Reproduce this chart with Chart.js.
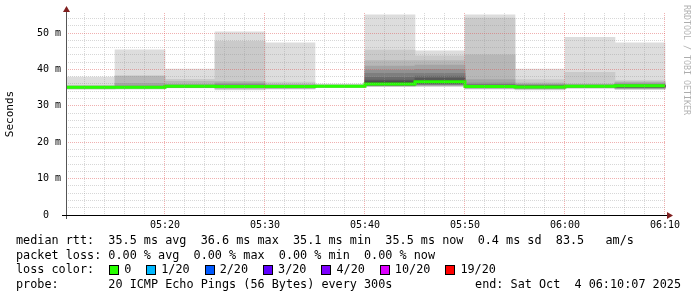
<!DOCTYPE html>
<html>
<head>
<meta charset="utf-8">
<script src="https://cdn.jsdelivr.net/npm/chart.js@4/dist/chart.umd.min.js"></script>
<style>
html,body{margin:0;padding:0;background:#ffffff;}
#wrap{width:697px;height:297px;position:relative;overflow:hidden;}
canvas{display:block;}
</style>
</head>
<body>
<div id="wrap"><canvas id="c" width="697" height="297"></canvas></div>
<script>
// ---------- DATA ----------
const slotStarts = ['05:10','05:15','05:20','05:25','05:30','05:35','05:40','05:45','05:50','05:55','06:00','06:05'];
const slotMinutes = 5;
const viewStart = '05:10:06';
const viewEnd = '06:10:06';

// 20 sorted ping RTTs (ms) per 5-minute slot
const ping0510 = [34.5,34.7,34.8,34.9,34.9,34.9,35.0,35.0,35.0,35.1,35.1,35.1,35.1,35.1,35.2,35.2,35.3,35.4,35.6,37.9];
const ping0515 = [34.6,34.7,34.8,34.9,34.9,35.0,35.0,35.0,35.1,35.1,35.1,35.1,35.2,35.2,35.3,35.5,36.2,38.1,38.3,45.4];
const ping0520 = [34.9,35.0,35.0,35.1,35.1,35.2,35.2,35.3,35.3,35.4,35.4,35.4,35.5,35.5,35.6,35.7,35.9,36.7,37.3,40.1];
const ping0525 = [34.4,34.6,34.8,34.9,35.0,35.0,35.1,35.1,35.2,35.3,35.3,35.4,35.5,35.6,35.7,36.0,36.3,36.7,47.7,50.3];
const ping0530 = [34.6,34.7,34.8,34.9,35.0,35.0,35.1,35.2,35.2,35.3,35.3,35.4,35.4,35.5,35.5,35.6,35.8,36.0,36.5,47.3];
const ping0535 = [35.0,35.1,35.1,35.2,35.2,35.3,35.3,35.3,35.4,35.4,35.4,35.4,35.5,35.5,35.5,35.6,35.6,35.7,35.8,36.0];
const ping0540 = [35.3,35.4,35.4,35.5,35.5,35.6,35.7,35.8,35.9,36.0,36.1,36.6,37.1,37.8,38.9,39.8,40.9,42.4,45.3,55.0];
const ping0545 = [35.3,35.4,35.5,35.6,35.8,35.9,36.0,36.2,36.3,36.5,36.7,36.9,37.6,38.2,38.9,40.0,41.2,42.4,43.7,45.1];
const ping0550 = [34.6,34.7,34.8,34.9,35.0,35.0,35.1,35.2,35.2,35.3,35.4,35.5,35.6,35.7,35.9,36.3,37.2,44.0,54.1,55.0];
const ping0555 = [34.4,34.5,34.7,34.8,34.9,34.9,35.0,35.1,35.1,35.2,35.2,35.3,35.4,35.5,35.6,35.8,36.0,36.3,37.2,40.1];
const ping0600 = [34.8,34.9,35.0,35.0,35.1,35.2,35.2,35.3,35.3,35.4,35.4,35.4,35.5,35.5,35.6,35.7,35.8,36.0,39.2,48.8];
const ping0605 = [34.5,34.6,34.7,34.8,34.9,35.0,35.1,35.2,35.2,35.4,35.5,35.5,35.6,35.7,35.8,36.0,36.3,36.6,36.9,47.3];
const slotPings = [ping0510,ping0515,ping0520,ping0525,ping0530,ping0535,ping0540,ping0545,ping0550,ping0555,ping0600,ping0605];

const medianRtt = [35.1,35.1,35.4,35.3,35.3,35.4,36.0,36.6,35.3,35.2,35.4,35.5];

const xTickLabels = ['05:20','05:30','05:40','05:50','06:00','06:10'];
const yTickValues = [0,10,20,30,40,50];
const yTickLabels = ['0  ','10 m','20 m','30 m','40 m','50 m'];
const yMax = 55.5;

const lossLabels = ['0','1/20','2/20','3/20','4/20','10/20','19/20'];

const legendMedian = 'median rtt:  35.5 ms avg  36.6 ms max  35.1 ms min  35.5 ms now  0.4 ms sd  83.5   am/s';
const legendLoss = 'packet loss: 0.00 % avg  0.00 % max  0.00 % min  0.00 % now';
const legendLossTitle = 'loss color:';
const legendProbe = 'probe:       20 ICMP Echo Pings (56 Bytes) every 300s';
const legendEnd = 'end: Sat Oct  4 06:10:07 2025';
const watermark = 'RRDTOOL / TOBI OETIKER';
const yTitle = 'Seconds';

// ---------- STYLE ----------
const lossColors = ['#26ff00','#00b8ff','#0059ff','#5e00ff','#7e00ff','#dd00ff','#ff0000'];
const MONO = '"DejaVu Sans Mono", "Liberation Mono", monospace';
const minorGrid = 'rgba(150,150,150,0.38)';
const majorGrid = 'rgba(222,79,79,0.45)';

// ---------- helpers ----------
function toMin(t){ const p = t.split(':'); return (+p[0])*60 + (+p[1]) + (p[2] ? (+p[2])/60 : 0); }
const xMin = toMin(viewStart), xMax = toMin(viewEnd);
const slotMid = slotStarts.map(t => toMin(t) + slotMinutes/2);

const datasets = [];
const half = 10;
for (let i = 1; i <= half; i++) {
  const g = Math.floor(190/half*(half-i)) + 50;
  datasets.push({
    type: 'bar',
    label: 'smoke' + i,
    xAxisID: 'xb',
    data: slotPings.map((s, k) => ({x: slotMid[k], y: [s[i-1], s[20-i]]})),
    backgroundColor: 'rgb(' + g + ',' + g + ',' + g + ')',
    borderWidth: 0,
    grouped: false,
    barPercentage: 1,
    categoryPercentage: 1,
    order: 20 - i,
    clip: 0
  });
}
const medianPts = slotStarts.map((t, k) => ({x: toMin(t), y: medianRtt[k]}));
medianPts.push({x: toMin(slotStarts[slotStarts.length-1]) + slotMinutes, y: medianRtt[medianRtt.length-1]});
datasets.push({
  type: 'line',
  label: 'median',
  xAxisID: 'x',
  data: medianPts,
  borderColor: lossColors[0],
  borderWidth: 3,
  pointRadius: 0,
  stepped: 'before',
  fill: false,
  order: 1,
  clip: 0
});

const decor = {
  id: 'decor',
  afterDraw(chart) {
    const ctx = chart.ctx;
    const a = chart.chartArea;
    const L = Math.round(a.left) + 0.5, B = Math.round(a.bottom) + 0.5;
    ctx.save();
    // axes
    ctx.lineWidth = 1;
    ctx.strokeStyle = '#555555';
    ctx.beginPath(); ctx.moveTo(L, a.top - 3); ctx.lineTo(L, a.bottom + 4); ctx.stroke();
    ctx.strokeStyle = '#000000';
    ctx.beginPath(); ctx.moveTo(a.left - 4, B); ctx.lineTo(a.right + 2, B); ctx.stroke();
    // arrows
    ctx.fillStyle = '#801f1f';
    ctx.beginPath(); ctx.moveTo(L - 3.5, a.top - 1); ctx.lineTo(L + 3.5, a.top - 1); ctx.lineTo(L, a.top - 7); ctx.closePath(); ctx.fill();
    ctx.beginPath(); ctx.moveTo(a.right + 1, B - 3.5); ctx.lineTo(a.right + 1, B + 3.5); ctx.lineTo(a.right + 7, B); ctx.closePath(); ctx.fill();

    // legend
    ctx.fillStyle = '#000000';
    ctx.font = '11.8px ' + MONO;
    ctx.textBaseline = 'middle';
    ctx.textAlign = 'left';
    const x0 = 16;
    ctx.fillText(legendMedian, x0, 241);
    ctx.fillText(legendLoss, x0, 255.5);
    ctx.fillText(legendLossTitle, x0, 270);
    let bx = x0 + ctx.measureText(legendLossTitle).width + 15;
    for (let k = 0; k < lossLabels.length; k++) {
      const rx = Math.round(bx);
      ctx.fillStyle = lossColors[k];
      ctx.fillRect(rx, 265, 10, 10);
      ctx.strokeStyle = '#000000';
      ctx.lineWidth = 1;
      ctx.strokeRect(rx + 0.5, 265.5, 9, 9);
      ctx.fillStyle = '#000000';
      const tx = bx + 15;
      ctx.fillText(lossLabels[k], tx, 270);
      bx = tx + ctx.measureText(lossLabels[k]).width + 15;
    }
    ctx.fillText(legendProbe, x0, 284.5);
    ctx.textAlign = 'right';
    ctx.fillText(legendEnd, 681, 284.5);

    // watermark
    ctx.save();
    ctx.translate(686, 5);
    ctx.rotate(Math.PI/2);
    ctx.textAlign = 'left';
    ctx.textBaseline = 'middle';
    ctx.font = '8.3px ' + MONO;
    ctx.fillStyle = 'rgba(0,0,0,0.32)';
    ctx.fillText(watermark, 0, 0);
    ctx.restore();
    ctx.restore();
  }
};

const gridColor = (ctx) => (ctx.tick && Math.abs(ctx.tick.value % 10) < 1e-6) ? majorGrid : minorGrid;

new Chart(document.getElementById('c'), {
  data: { datasets },
  options: {
    responsive: false,
    animation: false,
    devicePixelRatio: 1,
    layout: { padding: { left: 0, right: 31, top: 13, bottom: 0 } },
    plugins: { legend: { display: false }, tooltip: { enabled: false }, title: { display: false } },
    scales: {
      x: {
        type: 'linear',
        offset: false,
        min: xMin,
        max: xMax,
        afterBuildTicks(scale) {
          const t = [];
          for (let v = Math.ceil(xMin/2)*2; v <= xMax + 1e-9; v += 2) t.push({value: v});
          scale.ticks = t;
        },
        afterFit(scale) { scale.height = 82; },
        ticks: {
          autoSkip: false,
          maxRotation: 0,
          padding: 4,
          color: '#000000',
          font: { family: MONO, size: 10 },
          callback(v) {
            const idx = xTickLabels.findIndex(l => Math.abs(toMin(l) - v) < 1e-6);
            return idx >= 0 ? xTickLabels[idx] : '';
          }
        },
        grid: { z: 1, drawTicks: false, offset: false, color: gridColor, lineWidth: 1 },
        border: { display: false, dash: [1, 1] }
      },
      xb: {
        type: 'linear',
        axis: 'x',
        position: 'bottom',
        display: false,
        offset: false,
        min: xMin,
        max: xMax,
        afterBuildTicks(scale) { scale.ticks = []; },
        grid: { offset: false }
      },
      y: {
        type: 'linear',
        min: 0,
        max: yMax,
        afterBuildTicks(scale) {
          const t = [];
          for (let v = 0; v < yMax; v += 2) t.push({value: v});
          scale.ticks = t;
        },
        afterFit(scale) { scale.width = 66; },
        ticks: {
          autoSkip: false,
          padding: 5,
          color: '#000000',
          font: { family: MONO, size: 10 },
          callback(v) {
            const idx = yTickValues.indexOf(v);
            return idx >= 0 ? yTickLabels[idx] : '';
          }
        },
        title: { display: true, text: yTitle, color: '#000000', font: { family: MONO, size: 11 }, padding: { top: 4, bottom: 0 } },
        grid: { z: 1, drawTicks: false, color: gridColor, lineWidth: 1 },
        border: { display: false, dash: [1, 1] }
      }
    }
  },
  plugins: [decor]
});
</script>
</body>
</html>
